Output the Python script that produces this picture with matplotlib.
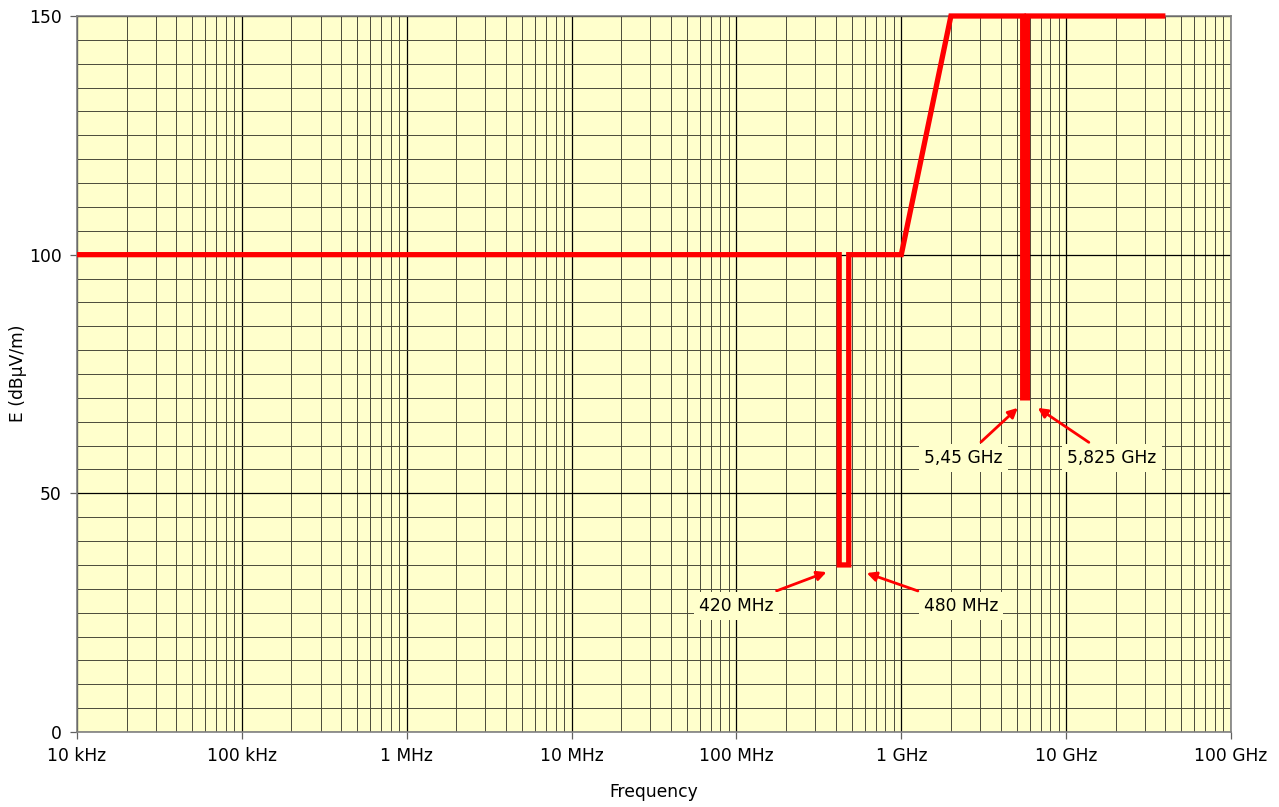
import matplotlib
matplotlib.use("Agg")
import matplotlib.pyplot as plt
from matplotlib.ticker import FixedLocator, NullFormatter
import numpy as np

# Data
freq_hz = [1e4, 420e6, 420e6, 480e6, 480e6, 1e9, 2e9, 5.45e9, 5.45e9, 5.825e9, 5.825e9, 40e9]
level_dbuv = [100, 100, 35, 35, 100, 100, 150, 150, 70, 70, 150, 150]

x_tick_values = [1e4, 1e5, 1e6, 1e7, 1e8, 1e9, 1e10, 1e11]
x_tick_labels = ["10 kHz", "100 kHz", "1 MHz", "10 MHz", "100 MHz", "1 GHz", "10 GHz", "100 GHz"]
y_tick_values = [0, 50, 100, 150]

annotation_labels = ["420 MHz", "480 MHz", "5,45 GHz", "5,825 GHz"]

plt.rcParams['font.family'] = ['DejaVu Sans']
fig = plt.figure(figsize=(12.79, 8.07), dpi=100)
ax = fig.add_axes([77/1279, 75/807, 1154/1279, 716/807])
bg = '#FFFFCC'
ax.set_facecolor(bg)

ax.set_xscale('log')
ax.set_xlim(1e4, 1e11)
ax.set_ylim(0, 150)

ax.xaxis.set_major_locator(FixedLocator(x_tick_values))
ax.set_xticklabels(x_tick_labels, fontsize=12.3)
minors = [m * d for d in x_tick_values[:-1] for m in range(2, 10)]
ax.xaxis.set_minor_locator(FixedLocator(minors))
ax.xaxis.set_minor_formatter(NullFormatter())
ax.yaxis.set_major_locator(FixedLocator(y_tick_values))
ax.yaxis.set_minor_locator(FixedLocator([v for v in range(5, 150, 5) if v % 50]))
ax.set_yticklabels([str(v) for v in y_tick_values], fontsize=12.3)

ax.grid(which='major', color='black', linewidth=0.9)
ax.grid(which='minor', color='#4a4a3a', linewidth=0.7)
ax.set_axisbelow(True)

ax.tick_params(which='major', direction='out', length=5, width=0.9, color='#606060', pad=6)
ax.tick_params(which='minor', length=0)
for s in ax.spines.values():
    s.set_color('#808080')
    s.set_linewidth(1.2)

ax.plot(freq_hz, level_dbuv, color='#FF0000', linewidth=3.8,
        solid_joinstyle='miter', solid_capstyle='butt', clip_on=False, zorder=5)

ax.set_xlabel('Frequency', fontsize=12.3)
ax.xaxis.set_label_coords(0.5, -(783 - 732) / 716)
ax.set_ylabel('E (dBµV/m)', fontsize=12.3)
ax.yaxis.set_label_coords(-(77 - 27) / 1154, (732 - 373) / 716)

ann_text_pos = [(1.0e8, 26.4), (2.30e9, 26.4), (2.39e9, 57.4), (1.9e10, 57.4)]
ann_arrow_pos = [(3.52e8, 33.5), (6.17e8, 33.3), (5.09e9, 67.9), (6.73e9, 67.9)]
for lab, tp, ap in zip(annotation_labels, ann_text_pos, ann_arrow_pos):
    ax.annotate(lab, xy=ap, xytext=tp, ha='center', va='center', fontsize=12.3,
                bbox=dict(boxstyle='square,pad=0.3', fc=bg, ec='none'),
                arrowprops=dict(arrowstyle='-|>', color='#FF0000', lw=2,
                                mutation_scale=14, shrinkA=2, shrinkB=0),
                zorder=6)

fig.savefig('out.png', dpi=100)
